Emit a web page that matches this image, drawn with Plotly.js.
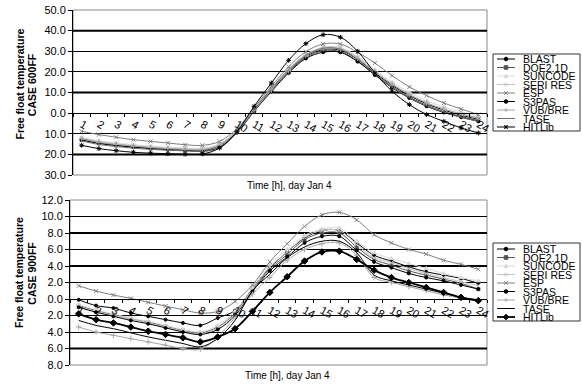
<!DOCTYPE html>
<html><head><meta charset="utf-8">
<script src="https://cdn.plot.ly/plotly-3.0.1.min.js"></script>
<style>html,body{margin:0;padding:0;background:#fff}#chart{width:582px;height:387px}</style>
</head><body><div id="chart"></div>
<script>
// ---------- data ----------
const hours = [1,2,3,4,5,6,7,8,9,10,11,12,13,14,15,16,17,18,19,20,21,22,23,24];
const seriesNames = ["BLAST","DOE2.1D","SUNCODE","SERI RES","ESP","S3PAS","VUB/BRE","TASE","HITLib"];

// CASE 600FF
const blast600  = [-12.3,-14.2,-15.3,-16.1,-16.8,-17.3,-17.7,-17.8,-15.5,-8.5,1.5,11.5,20.5,27.5,30.8,30.5,26.0,19.5,13.5,8.5,4.5,1.5,-1.0,-3.0];
const doe600    = [-12.9,-14.6,-15.6,-16.4,-17.1,-17.6,-18.0,-18.2,-15.8,-9.0,1.0,11.0,20.0,27.0,30.2,29.8,25.2,18.8,12.8,7.8,3.8,0.8,-1.6,-3.6];
const suncode600= [-11.7,-13.4,-14.5,-15.3,-16.0,-16.5,-16.9,-17.0,-14.8,-8.0,2.2,12.3,21.5,28.5,32.0,31.8,27.5,21.0,15.0,10.0,6.0,3.0,0.5,-1.5];
const seri600   = [-12.0,-13.8,-14.9,-15.7,-16.4,-16.9,-17.3,-17.4,-15.2,-8.5,1.5,11.8,21.0,28.2,31.8,31.5,27.0,20.5,14.2,9.2,5.0,2.0,-0.5,-2.5];
const esp600    = [-8.8,-10.4,-11.7,-12.9,-13.7,-14.5,-15.3,-15.6,-13.7,-7.5,2.5,13.0,22.5,29.8,33.5,33.5,29.5,24.3,18.2,12.7,8.5,4.9,2.0,-0.7];
const s3pas600  = [-13.0,-14.7,-15.7,-16.5,-17.2,-17.7,-18.1,-18.5,-16.5,-9.5,0.9,10.5,19.5,26.5,29.5,29.5,25.0,18.5,12.3,7.3,3.3,0.3,-2.0,-4.0];
const vub600    = [-12.5,-14.2,-15.2,-16.0,-16.7,-17.2,-17.6,-17.7,-15.5,-8.8,1.2,11.2,20.5,27.8,31.2,31.0,26.5,20.0,14.0,9.0,5.0,2.0,-0.3,-2.3];
const tase600   = [-13.5,-15.2,-16.2,-17.0,-17.6,-18.0,-18.3,-18.5,-16.9,-9.3,1.5,12.0,21.0,28.0,31.5,31.0,26.0,19.0,12.5,7.5,3.5,0.5,-2.0,-4.0];
const hitlib600 = [-15.6,-17.2,-18.2,-19.0,-19.4,-19.7,-19.9,-19.8,-16.9,-9.0,3.3,14.6,25.6,33.7,38.0,36.8,30.0,19.5,10.6,4.1,-0.7,-4.0,-7.2,-9.6];

// CASE 900FF
const blast900  = [-0.1,-0.8,-1.1,-1.7,-2.1,-2.5,-2.9,-3.2,-2.3,-1.4,1.3,3.8,5.7,7.4,8.3,8.3,6.8,5.3,4.6,3.9,3.3,2.9,2.5,1.9];
const doe900    = [-0.8,-1.4,-1.9,-2.4,-2.8,-3.3,-3.8,-4.1,-3.4,-1.7,1.1,3.6,5.4,7.2,8.0,8.0,6.3,4.8,4.1,3.4,2.9,2.4,1.9,1.2];
const suncode900= [-0.7,-1.3,-1.8,-2.3,-2.7,-3.2,-3.7,-4.0,-3.2,-1.5,1.4,4.2,6.0,7.7,8.5,8.6,7.0,5.6,4.9,4.3,3.7,3.1,2.6,2.2];
const seri900   = [-0.9,-1.5,-2.0,-2.4,-2.9,-3.4,-3.9,-4.2,-3.5,-1.8,1.2,3.9,5.7,7.5,8.3,8.3,6.6,5.0,4.4,3.7,3.1,2.6,2.1,1.6];
const esp900    = [1.6,0.97,0.48,0.08,-0.4,-0.85,-1.3,-1.7,-1.5,-0.3,1.7,4.5,6.7,8.8,10.2,10.5,9.6,7.8,6.8,6.0,5.45,4.7,4.2,3.6];
const s3pas900  = [-1.0,-1.6,-2.1,-2.6,-3.0,-3.5,-4.0,-4.3,-3.7,-2.0,0.9,3.4,5.1,6.8,7.6,7.6,5.9,4.5,3.8,3.1,2.6,2.2,1.7,1.2];
const vub900    = [-3.4,-4.0,-4.4,-4.8,-5.2,-5.6,-6.0,-6.1,-4.6,-2.2,0.6,2.6,4.7,6.0,6.7,6.8,5.3,2.6,2.0,1.5,1.0,0.5,0.1,-0.2];
const tase900   = [-2.6,-3.2,-3.6,-4.1,-4.6,-5.0,-5.4,-5.8,-4.8,-2.6,1.0,3.0,5.0,6.3,7.0,7.0,5.6,2.9,2.2,1.7,1.2,0.7,0.2,-0.1];
const hitlib900 = [-1.8,-2.5,-2.9,-3.4,-3.9,-4.3,-4.7,-5.2,-4.6,-3.6,-1.5,0.8,2.7,4.6,5.7,5.8,4.8,3.5,2.6,2.0,1.4,0.8,0.2,-0.2];

// tick labels (as printed in the source)
const yTickVals600 = [-30,-20,-10,0,10,20,30,40,50];
const yTickText600 = ["30.0","20.0","10.0","0.0","10.0","20.0","30.0","40.0","50.0"];
const yTickVals900 = [-8,-6,-4,-2,0,2,4,6,8,10,12];
const yTickText900 = ["8.0","6.0","4.0","2.0","0.0","2.0","4.0","6.0","8.0","10.0","12.0"];

const xTitle = "Time [h], day Jan 4";
const yTitleLine1 = "Free float temperature";
const yTitle600 = "CASE 600FF";
const yTitle900 = "CASE 900FF";

// ---------- styles ----------
const W = 582, H = 387, ML = 70, MR = 95, MT = 10, MB = 22;
const PW = W - ML - MR, PH = H - MT - MB;
const px = v => (v - ML) / PW;
const py = v => (H - MB - v) / PH;

const styles600 = [
  {c:'#000000', sym:'circle', sz:3, w:1},
  {c:'#555555', sym:'square', sz:3, w:1},
  {c:'#dadada', sym:'triangle-up', sz:4, w:1},
  {c:'#c4c4c4', sym:'x-thin-open', sz:4, w:1},
  {c:'#7f7f7f', sym:'x-thin-open', sz:4, w:1},
  {c:'#000000', sym:'circle', sz:3, w:1},
  {c:'#a6a6a6', sym:'cross-thin-open', sz:4, w:1},
  {c:'#707070', sym:null, sz:0, w:1},
  {c:'#000000', sym:'asterisk-open', sz:4, w:1}
];
const styles900 = styles600.map(s => Object.assign({}, s));
styles900[7] = {c:'#000000', sym:null, sz:0, w:1};
styles900[8] = {c:'#000000', sym:'diamond', sz:5, w:1.8};

const data600 = [blast600, doe600, suncode600, seri600, esp600, s3pas600, vub600, tase600, hitlib600];
const data900 = [blast900, doe900, suncode900, seri900, esp900, s3pas900, vub900, tase900, hitlib900];

function mkTraces(arrs, styles, xa, ya) {
  return arrs.map((ys, i) => {
    const s = styles[i];
    const t = {
      x: hours, y: ys, name: seriesNames[i], xaxis: xa, yaxis: ya,
      type: 'scatter', mode: s.sym ? 'lines+markers' : 'lines',
      line: {color: s.c, width: s.w, shape: 'spline', smoothing: 1},
      showlegend: false, hoverinfo: 'skip'
    };
    if (s.sym) {
      t.marker = {symbol: s.sym, size: s.sz, color: s.c, line: {color: s.c, width: 1}};
    }
    return t;
  });
}

const traces = mkTraces(data600, styles600, 'x', 'y').concat(mkTraces(data900, styles900, 'x2', 'y2'));

const topDom = [py(175), py(10)];
const botDom = [py(365), py(200)];
const zeroTop = topDom[0] + (30/80) * (topDom[1] - topDom[0]);
const zeroBot = botDom[0] + (8/20) * (botDom[1] - botDom[0]);

const font = 'Liberation Sans, Arial, sans-serif';

function xax(dom, pos) {
  return {domain: dom, anchor: 'free', position: pos, type: 'category',
    range: [-0.5, 23.5], tickson: 'boundaries', ticks: 'outside', ticklen: 3,
    tickcolor: '#000', showline: true, linecolor: '#000', linewidth: 1,
    showgrid: false, zeroline: false, tickfont: {size: 11, color: '#000', family: font}};
}
function yax(dom, range, tv, tt, xa) {
  return {domain: dom, anchor: xa, range: range, tickvals: tv, ticktext: tt,
    ticks: 'outside', ticklen: 4, tickcolor: '#000', showline: true, linecolor: '#000',
    linewidth: 1, gridcolor: '#000', gridwidth: 1, zeroline: false,
    tickfont: {size: 11, color: '#000', family: font}};
}

const shapes = [];
// plot borders
shapes.push({type:'rect', xref:'x domain', yref:'y domain', x0:0, x1:1, y0:0, y1:1, line:{color:'#8a8a8a', width:1}, layer:'below'});
shapes.push({type:'rect', xref:'x2 domain', yref:'y2 domain', x0:0, x1:1, y0:0, y1:1, line:{color:'#8a8a8a', width:1}, layer:'below'});
// heavier looking gridlines (as rendered in the source)
[40,10,-20].forEach(v => shapes.push({type:'line', xref:'x domain', yref:'y', x0:0, x1:1, y0:v, y1:v, line:{color:'#000', width:2}, layer:'below'}));
[8,4,-6].forEach(v => shapes.push({type:'line', xref:'x2 domain', yref:'y2', x0:0, x1:1, y0:v, y1:v, line:{color:'#000', width:2}, layer:'below'}));

const annotations = [];
// axis titles
annotations.push({text: xTitle, xref:'paper', yref:'paper', x: px(289), y: py(185), showarrow:false, font:{size:10, family:font, color:'#000'}, xanchor:'center', yanchor:'middle'});
annotations.push({text: xTitle, xref:'paper', yref:'paper', x: px(287), y: py(375), showarrow:false, font:{size:10, family:font, color:'#000'}, xanchor:'center', yanchor:'middle'});
function ytitle(line, xp, yp) {
  annotations.push({text: '<b>' + line + '</b>', xref:'paper', yref:'paper', x: px(xp), y: py(yp), showarrow:false, textangle:-90,
    font:{size:10.5, family:font, color:'#000'}, xanchor:'center', yanchor:'middle'});
}
ytitle(yTitleLine1, 19, 84.5); ytitle(yTitle600, 31.7, 84.5);
ytitle(yTitleLine1, 19, 273); ytitle(yTitle900, 31.7, 273);

// custom compact legends
function markerShape(sym, cx, cy, col, big) {
  const s = big ? 2.8 : 1.8;
  const base = {xref:'paper', yref:'paper', xsizemode:'pixel', ysizemode:'pixel', xanchor: px(cx), yanchor: py(cy)};
  const lw = {color: col, width: 1};
  if (sym === 'circle') return Object.assign({type:'circle', x0:-s, x1:s, y0:-s, y1:s, fillcolor: col, line: lw}, base);
  if (sym === 'square') return Object.assign({type:'rect', x0:-s, x1:s, y0:-s, y1:s, fillcolor: col, line: lw}, base);
  let p = '';
  if (sym === 'triangle-up') p = `M${-s},${-s} L${s},${-s} L0,${s} Z`;
  if (sym === 'x-thin-open') p = `M${-s},${-s} L${s},${s} M${-s},${s} L${s},${-s}`;
  if (sym === 'cross-thin-open') p = `M${-s},0 L${s},0 M0,${-s} L0,${s}`;
  if (sym === 'asterisk-open') p = `M${-s},${-s} L${s},${s} M${-s},${s} L${s},${-s} M${-s},0 L${s},0 M0,${-s} L0,${s}`;
  if (sym === 'diamond') p = `M${-s},0 L0,${s} L${s},0 L0,${-s} Z`;
  const fill = (sym === 'triangle-up' || sym === 'diamond') ? col : 'rgba(0,0,0,0)';
  return Object.assign({type:'path', path: p, fillcolor: fill, line: lw}, base);
}
function legend(styles, boxTop, boxBot, firstY, step) {
  shapes.push({type:'rect', xref:'paper', yref:'paper', x0: px(493), x1: px(580), y0: py(boxBot), y1: py(boxTop), line:{color:'#333', width:1}, fillcolor:'#fff'});
  seriesNames.forEach((n, i) => {
    const s = styles[i];
    const yy = firstY + step * i;
    shapes.push({type:'line', xref:'paper', yref:'paper', x0: px(497), x1: px(515), y0: py(yy), y1: py(yy), line:{color: s.c, width: s.w}});
    if (s.sym) shapes.push(markerShape(s.sym, 506, yy, s.c, s.sym === 'diamond'));
    annotations.push({text: n, xref:'paper', yref:'paper', x: px(521.5), y: py(yy), showarrow:false, xanchor:'left', yanchor:'middle',
      font:{size:10.5, family:font, color:'#000'}, borderpad:0});
  });
}
legend(styles600, 54, 131, 59, 8.5);
legend(styles900, 243, 321, 249, 8.5);

const layout = {
  width: W, height: H, margin: {l: ML, r: MR, t: MT, b: MB},
  paper_bgcolor: '#fff', plot_bgcolor: '#fff', showlegend: false,
  font: {family: font, color: '#000'},
  xaxis: xax([3/PW, 1], zeroTop),
  yaxis: yax(topDom, [-30, 50], yTickVals600, yTickText600, 'x'),
  xaxis2: xax([0, 1], zeroBot),
  yaxis2: yax(botDom, [-8, 12], yTickVals900, yTickText900, 'x2'),
  shapes: shapes, annotations: annotations
};

Plotly.newPlot('chart', traces, layout, {staticPlot: true, displayModeBar: false});
</script></body></html>
